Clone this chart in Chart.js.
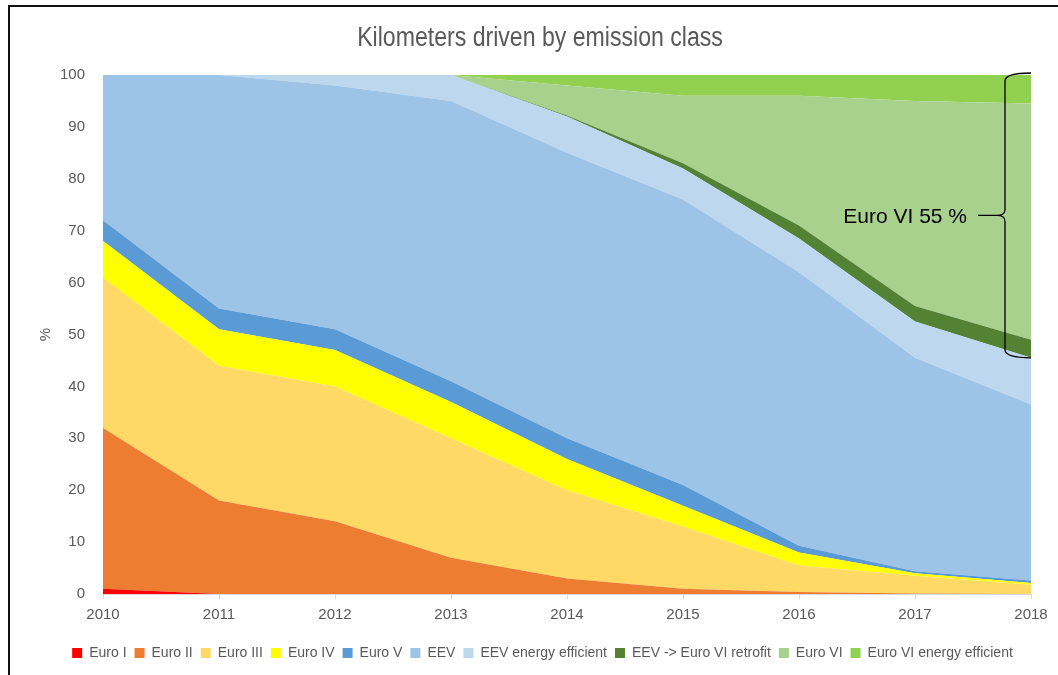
<!DOCTYPE html>
<html>
<head>
<meta charset="utf-8">
<script src="https://cdn.jsdelivr.net/npm/chart.js@4.4.0/dist/chart.umd.min.js"></script>
<style>
  body { margin: 0; background: #fff; }
  #wrap { position: relative; width: 1058px; height: 675px; }
  #frame { position: absolute; left: 8px; top: 5px; right: -10px; bottom: -10px;
           border-left: 2px solid #111; border-top: 2px solid #111; pointer-events: none; }
</style>
</head>
<body>
<div id="wrap">
  <canvas id="chart" width="1058" height="675"></canvas>
  <div id="frame"></div>
</div>
<script>
  // data (% of km driven)
  var years = ["2010", "2011", "2012", "2013", "2014", "2015", "2016", "2017", "2018"];
  var euro1 = [1, 0, 0, 0, 0, 0, 0, 0, 0];
  var euro2 = [31, 18, 14, 7, 3, 1, 0.4, 0.1, 0];
  var euro3 = [29, 26, 26, 23, 17, 12, 5.1, 3.4, 1.8];
  var euro4 = [7, 7, 7, 7, 6, 4, 2.5, 0.5, 0.3];
  var euro5 = [4, 4, 4, 4, 4, 4, 1.3, 0.4, 0.5];
  var eev = [28, 45, 47, 54, 55, 55, 52.7, 41.1, 33.9];
  var eevEE = [0, 0, 2, 5, 7, 6, 6.5, 7, 9];
  var retrofit = [0, 0, 0, 0, 0.2, 1, 2.5, 3, 3.5];
  var euro6 = [0, 0, 0, 0, 5.8, 13, 25, 39.5, 45.5];
  var euro6EE = [0, 0, 0, 0, 2, 4, 4, 5, 5.5];
  var yTicks = [0, 10, 20, 30, 40, 50, 60, 70, 80, 90, 100];
  var titleText = "Kilometers driven by emission class";

  var series = [
    ["Euro I", euro1, "#FF0000"],
    ["Euro II", euro2, "#ED7D31"],
    ["Euro III", euro3, "#FFD966"],
    ["Euro IV", euro4, "#FFFF00"],
    ["Euro V", euro5, "#5B9BD5"],
    ["EEV", eev, "#9DC3E6"],
    ["EEV energy efficient", eevEE, "#BDD7EE"],
    ["EEV -> Euro VI retrofit", retrofit, "#548235"],
    ["Euro VI", euro6, "#A9D18E"],
    ["Euro VI energy efficient", euro6EE, "#92D050"]
  ];

  var grey = "#595959";
  var ds = series.map(function (s, i) {
    return {
      label: s[0],
      data: s[1],
      backgroundColor: s[2],
      borderColor: s[2],
      borderWidth: 0,
      pointRadius: 0,
      tension: 0,
      fill: i === 0 ? "origin" : "-1"
    };
  });

  // condensed title (no narrow font installed, so squeeze it)
  var titlePlugin = {
    id: "narrowTitle",
    afterDraw: function (chart) {
      var c = chart.ctx;
      c.save();
      c.fillStyle = grey;
      c.font = "27px 'Liberation Sans', Arial, sans-serif";
      c.textAlign = "center";
      c.textBaseline = "middle";
      c.translate(540, 39);
      c.scale(0.855, 1);
      c.fillText(titleText, 0, 0);
      c.restore();
    }
  };

  // curly brace + label for the Euro VI share in the last year
  var bracePlugin = {
    id: "brace",
    afterDatasetsDraw: function (chart) {
      var ys = chart.scales.y, ca = chart.chartArea;
      var last = years.length - 1;
      var below = 0;
      for (var i = 0; i < 7; i++) below += series[i][1][last];
      var top = 0;
      series.forEach(function (s) { top += s[1][last]; });
      var share = Math.round(top - below);
      var yTop = ys.getPixelForValue(top) - 2;
      var yBot = ys.getPixelForValue(below);
      var yMid = (yTop + yBot) / 2;
      var x = ca.right - 26, r = ca.right;
      var c = chart.ctx;
      c.save();
      c.strokeStyle = "#000";
      c.lineWidth = 1.3;
      c.beginPath();
      c.moveTo(r, yTop);
      c.quadraticCurveTo(x, yTop, x, yTop + 8);
      c.lineTo(x, yMid - 6);
      c.quadraticCurveTo(x, yMid, x - 8, yMid);
      c.quadraticCurveTo(x, yMid, x, yMid + 6);
      c.lineTo(x, yBot - 8);
      c.quadraticCurveTo(x, yBot, r, yBot);
      c.moveTo(x - 27, yMid);
      c.lineTo(x - 8, yMid);
      c.stroke();
      c.fillStyle = "#000";
      c.font = "21px 'Liberation Sans', Arial, sans-serif";
      c.textAlign = "right";
      c.textBaseline = "middle";
      c.fillText("Euro VI " + share + " %", x - 38, yMid + 2);
      c.restore();
    }
  };

  var ctx = document.getElementById("chart").getContext("2d");
  var chart = new Chart(ctx, {
    type: "line",
    data: { labels: years, datasets: ds },
    plugins: [bracePlugin, titlePlugin],
    options: {
      responsive: false,
      animation: false,
      layout: { padding: { left: 54, right: 27, top: 75, bottom: 5 } },
      plugins: {
        title: { display: false },
        legend: {
          position: "bottom",
          labels: {
            color: grey,
            boxWidth: 10,
            boxHeight: 10,
            padding: 8,
            font: { family: "'Liberation Sans', Arial", size: 14 }
          }
        },
        tooltip: { enabled: false }
      },
      scales: {
        x: {
          grid: { display: true, drawOnChartArea: false, color: "#D9D9D9", tickLength: 5 },
          border: { color: "#D9D9D9" },
          ticks: { color: grey, padding: 7, maxRotation: 0, font: { family: "'Liberation Sans', Arial", size: 15 } },
          afterFit: function (scale) { scale.height = 44; }
        },
        y: {
          stacked: true,
          min: 0,
          max: 100,
          afterBuildTicks: function (scale) {
            scale.ticks = yTicks.map(function (v) { return { value: v }; });
          },
          grid: { display: false },
          border: { display: false },
          ticks: { color: grey, padding: 10, font: { family: "'Liberation Sans', Arial", size: 15 } },
          title: {
            display: true,
            text: "%",
            color: grey,
            padding: { top: -17, bottom: 0 },
            font: { family: "'Liberation Sans', Arial", size: 15 }
          },
          afterFit: function (scale) { scale.width = 49; }
        }
      }
    }
  });
</script>
</body>
</html>
